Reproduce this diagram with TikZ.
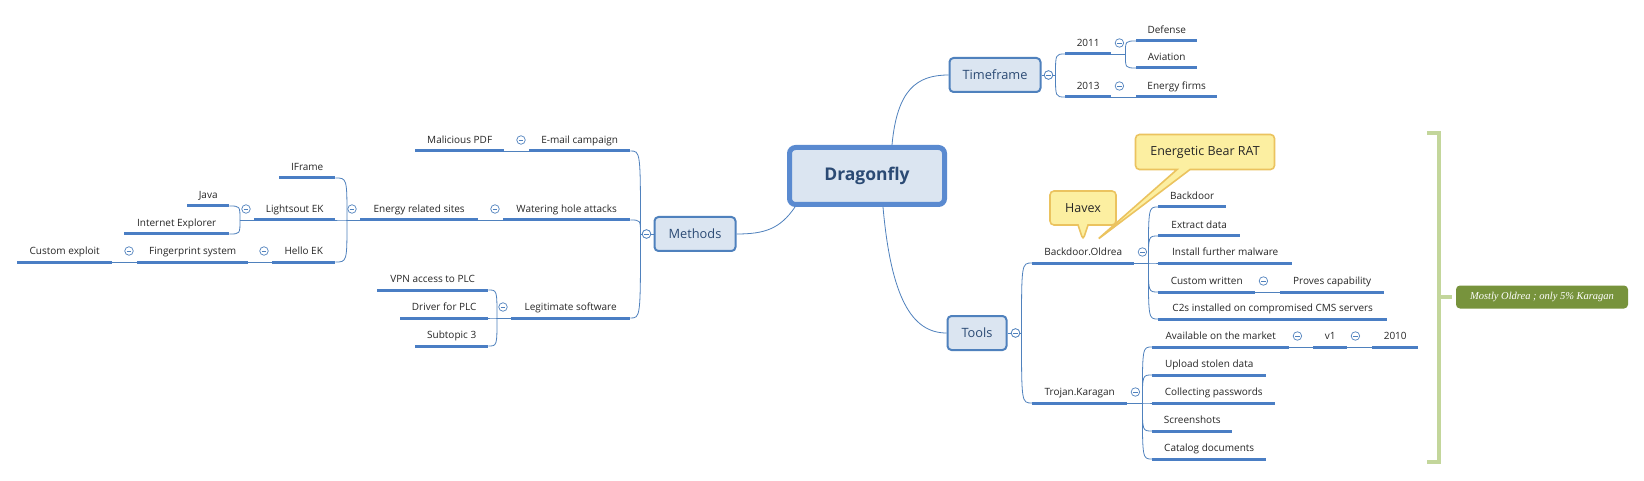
\documentclass[tikz,border=0pt]{standalone}
\usepackage{fontspec}
\setmainfont{Open Sans}
\newfontfamily\notefont{Liberation Serif}
\usepackage{xcolor}
\usetikzlibrary{calc}
\usetikzlibrary{shapes.callouts}

\definecolor{mapblue}{HTML}{4F81BD}
\definecolor{ulblue}{HTML}{4A7EC4}
\definecolor{coreblue}{HTML}{5A8AD0}
\definecolor{boxfill}{HTML}{DBE5F1}
\definecolor{boxtext}{HTML}{2B4A74}
\definecolor{bubblefill}{HTML}{FCEFA1}
\definecolor{bubbledraw}{HTML}{EBC35F}
\definecolor{bracegreen}{HTML}{C3D69B}
\definecolor{noteolive}{HTML}{77933C}

\begin{document}
\begin{tikzpicture}[x=1pt,y=-1pt,
  topic/.style={anchor=south west, inner xsep=0pt, inner ysep=0pt,
    text height=8pt, text depth=7pt, text=black!85,
    font=\fontsize{10}{12}\selectfont},
  branch/.style={draw=mapblue, line width=2pt, fill=boxfill, rounded corners=4pt,
    text=boxtext, minimum height=34pt, font=\fontsize{12.8}{15}\selectfont},
  link/.style={draw=mapblue, line width=0.8pt},
  uline/.style={draw=ulblue, line width=3pt},
  fold/.style={circle, draw=mapblue, fill=white, line width=0.7pt,
    minimum size=8.5pt, inner sep=0pt,
    path picture={\draw[mapblue, line width=0.7pt]
      ([xshift=-2.4pt]path picture bounding box.center) --
      ([xshift=2.4pt]path picture bounding box.center);}},
  bubble/.style={rectangle callout, draw=bubbledraw, line width=1.6pt,
    fill=bubblefill, rounded corners=4pt, text=black!85,
    font=\fontsize{12.5}{15}\selectfont},
]

  \path[use as bounding box, fill=white] (0,0) rectangle (1644,481);

  % central topic and main branches
  \node[branch, draw=coreblue, line width=5pt, rounded corners=6pt,
    minimum width=155pt, minimum height=57pt,
    font=\bfseries\fontsize{17.5}{20}\selectfont] (dragonfly) at (867,176) {Dragonfly};
  \node[branch, minimum width=91pt] (timeframe) at (995,75) {Timeframe};
  \node[branch, minimum width=81pt] (methods) at (695,234) {Methods};
  \node[branch, minimum width=59pt] (tools) at (977,333) {Tools};

  \draw[link] ([xshift=25pt]dragonfly.north) .. controls +(5,-55) and +(-32,0) .. (timeframe.west);
  \draw[link] ([xshift=16pt]dragonfly.south) .. controls +(8,90) and +(-35,0) .. (tools.west);
  \draw[link] ([xshift=8pt]dragonfly.south west) .. controls +(-15,22) and +(28,0) .. (methods.east);

  % Methods side (grows to the left)
  \node[topic, minimum width=101pt] (email) at (529,151) {E-mail campaign};
  \node[topic, minimum width=89pt] (maliciouspdf) at (415,151) {Malicious PDF};
  \node[topic, minimum width=127pt] (watering) at (503,220) {Watering hole attacks};
  \node[topic, minimum width=118pt] (energysites) at (360,220) {Energy related sites};
  \node[topic, minimum width=56pt] (iframe) at (279,178) {IFrame};
  \node[topic, minimum width=81pt] (lightsout) at (254,220) {Lightsout EK};
  \node[topic, minimum width=42pt] (java) at (187,206) {Java};
  \node[topic, minimum width=105pt] (iexplorer) at (124,234) {Internet Explorer};
  \node[topic, minimum width=63pt] (helloek) at (272,262) {Hello EK};
  \node[topic, minimum width=111pt] (fingerprint) at (137,262) {Fingerprint system};
  \node[topic, minimum width=95pt] (cexploit) at (17,262) {Custom exploit};
  \node[topic, minimum width=119pt] (legitimate) at (511,318) {Legitimate software};
  \node[topic, minimum width=111pt] (vpn) at (377,290) {VPN access to PLC};
  \node[topic, minimum width=88pt] (driver) at (400,318) {Driver for PLC};
  \node[topic, minimum width=73pt] (subtopic) at (415,346) {Subtopic 3};

  % Timeframe side
  \node[topic, minimum width=46pt] (yeleven) at (1065,54) {2011};
  \node[topic, minimum width=46pt] (ythirteen) at (1065,97) {2013};
  \node[topic, minimum width=61pt] (defense) at (1136,41) {Defense};
  \node[topic, minimum width=61pt] (aviation) at (1136,68) {Aviation};
  \node[topic, minimum width=81pt] (energyfirms) at (1136,97) {Energy firms};

  % Tools side
  \node[topic, minimum width=102pt] (oldrea) at (1032,263) {Backdoor.Oldrea};
  \node[topic, minimum width=68pt] (backdoor) at (1158,207) {Backdoor};
  \node[topic, minimum width=82pt] (extract) at (1158,236) {Extract data};
  \node[topic, minimum width=134pt] (install) at (1158,263) {Install further malware};
  \node[topic, minimum width=97pt] (custom) at (1158,292) {Custom written};
  \node[topic, minimum width=104pt] (proves) at (1280,292) {Proves capability};
  \node[topic, minimum width=229pt] (ctwos) at (1158,319) {C2s installed on compromised CMS servers};
  \node[topic, minimum width=95pt] (karagan) at (1032,403) {Trojan.Karagan};
  \node[topic, minimum width=137pt] (market) at (1152,347) {Available on the market};
  \node[topic, minimum width=34pt] (vone) at (1313,347) {v1};
  \node[topic, minimum width=46pt] (ytwentyten) at (1372,347) {2010};
  \node[topic, minimum width=114pt] (upload) at (1152,375) {Upload stolen data};
  \node[topic, minimum width=123pt] (passwords) at (1152,403) {Collecting passwords};
  \node[topic, minimum width=80pt] (screenshots) at (1152,431) {Screenshots};
  \node[topic, minimum width=114pt] (catalog) at (1152,459) {Catalog documents};

  % fold markers
  \node[fold] (methodsF) at ([xshift=-7pt]methods.west) {};
  \node[fold] (timeframeF) at ([xshift=7pt]timeframe.east) {};
  \node[fold] (toolsF) at ([xshift=8pt]tools.east) {};

  % brackets to the left
  \coordinate (methodsS) at ([xshift=-6pt]methodsF);
  \draw[link] (methods.west) -- (methodsS);
  \foreach \c in {email,watering,legitimate}
    \draw[link] (methodsS) .. controls (methodsS |- \c.south east) .. (\c.south east);

  \coordinate (energysitesS) at ([xshift=-13pt]energysites.south west);
  \draw[link] (energysites.south west) -- (energysitesS);
  \foreach \c in {iframe,lightsout,helloek}
    \draw[link] (energysitesS) .. controls (energysitesS |- \c.south east) .. (\c.south east);

  \coordinate (lightsoutS) at ([xshift=-14pt]lightsout.south west);
  \draw[link] (lightsout.south west) -- (lightsoutS);
  \foreach \c in {java,iexplorer}
    \draw[link] (lightsoutS) .. controls (lightsoutS |- \c.south east) .. (\c.south east);

  \coordinate (legitimateS) at ([xshift=-14pt]legitimate.south west);
  \draw[link] (legitimate.south west) -- (legitimateS);
  \foreach \c in {vpn,driver,subtopic}
    \draw[link] (legitimateS) .. controls (legitimateS |- \c.south east) .. (\c.south east);

  % brackets to the right
  \coordinate (timeframeS) at ([xshift=7pt]timeframeF);
  \draw[link] (timeframe.east) -- (timeframeS);
  \foreach \c in {yeleven,ythirteen}
    \draw[link] (timeframeS) .. controls (timeframeS |- \c.south west) .. (\c.south west);

  \coordinate (yelevenS) at ([xshift=14pt]yeleven.south east);
  \draw[link] (yeleven.south east) -- (yelevenS);
  \foreach \c in {defense,aviation}
    \draw[link] (yelevenS) .. controls (yelevenS |- \c.south west) .. (\c.south west);

  \coordinate (toolsS) at ([xshift=6pt]toolsF);
  \draw[link] (tools.east) -- (toolsS);
  \foreach \c in {oldrea,karagan}
    \draw[link] (toolsS) .. controls (toolsS |- \c.south west) .. (\c.south west);

  \coordinate (oldreaS) at ([xshift=14pt]oldrea.south east);
  \draw[link] (oldrea.south east) -- (oldreaS);
  \foreach \c in {backdoor,extract,install,custom,ctwos}
    \draw[link] (oldreaS) .. controls (oldreaS |- \c.south west) .. (\c.south west);

  \coordinate (karaganS) at ([xshift=15pt]karagan.south east);
  \draw[link] (karagan.south east) -- (karaganS);
  \foreach \c in {market,upload,passwords,screenshots,catalog}
    \draw[link] (karaganS) .. controls (karaganS |- \c.south west) .. (\c.south west);

  % single children
  \draw[link] (email.south west) -- (maliciouspdf.south east);
  \draw[link] (watering.south west) -- (energysites.south east);
  \draw[link] (helloek.south west) -- (fingerprint.south east);
  \draw[link] (fingerprint.south west) -- (cexploit.south east);
  \draw[link] (ythirteen.south east) -- (energyfirms.south west);
  \draw[link] (custom.south east) -- (proves.south west);
  \draw[link] (market.south east) -- (vone.south west);
  \draw[link] (vone.south east) -- (ytwentyten.south west);

  % underlines
  \foreach \n in {email,maliciouspdf,watering,energysites,iframe,lightsout,java,
      iexplorer,helloek,fingerprint,cexploit,legitimate,vpn,driver,subtopic,
      yeleven,ythirteen,defense,aviation,energyfirms,oldrea,backdoor,extract,
      install,custom,proves,ctwos,karagan,market,vone,ytwentyten,upload,
      passwords,screenshots,catalog}
    \draw[uline] (\n.south west) -- (\n.south east);

  % fold markers on topics
  \foreach \n in {email,watering,energysites,lightsout,helloek,fingerprint,legitimate}
    \node[fold] (\n F) at ([shift={(-8,-11)}]\n.south west) {};
  \foreach \n in {yeleven,ythirteen,oldrea,custom,karagan,market,vone}
    \node[fold] (\n F) at ([shift={(8,-11)}]\n.south east) {};
  \node[fold] at (methodsF) {};
  \node[fold] at (timeframeF) {};
  \node[fold] at (toolsF) {};

  % callouts
  \coordinate (havextip) at (1083,240);
  \coordinate (beartip) at (1097,240);
  \node[bubble, minimum width=66pt, minimum height=34pt,
    callout absolute pointer={(havextip)}, callout pointer width=10pt] (havex) at (1083,208) {Havex};
  \node[bubble, minimum width=139pt, minimum height=35pt,
    callout absolute pointer={(beartip)}, callout pointer width=13pt] (bear) at (1205,152) {Energetic Bear RAT};

  % summary bracket
  \coordinate (sumtop) at (1427,133);
  \coordinate (sumbot) at (1427,462);
  \coordinate (summid) at (1439,297);
  \draw[bracegreen, line width=4.5pt] (sumtop) -- ++(12,0) |- (sumbot);
  \node[fill=noteolive, rounded corners=4pt, text=white, minimum width=172pt,
    minimum height=23pt, inner sep=0pt,
    font=\notefont\itshape\fontsize{10.5}{12}\selectfont] (note) at (1542,297)
    {Mostly Oldrea ; only 5\% Karagan};
  \draw[bracegreen, line width=4.5pt] (summid) -- ([xshift=-4pt]note.west);

\end{tikzpicture}
\end{document}
